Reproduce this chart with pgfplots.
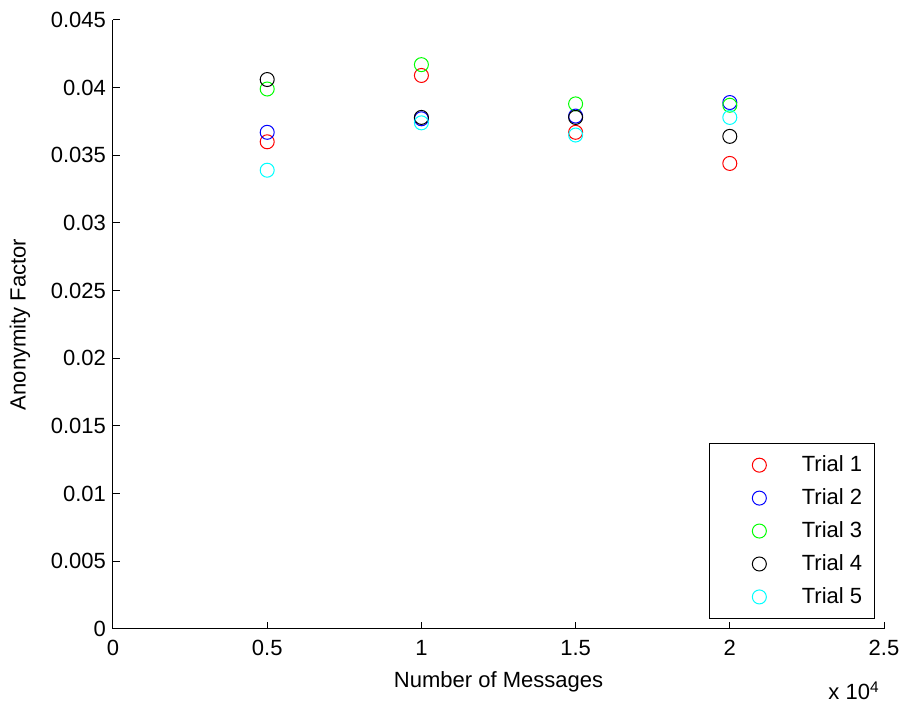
\documentclass[border=0pt]{standalone}
\usepackage{fontspec}
\setmainfont{Liberation Sans}
\usepackage{pgfplots}
\pgfplotsset{compat=1.18}
\usetikzlibrary{calc}
\definecolor{mred}{RGB}{255,0,0}
\definecolor{mblue}{RGB}{0,0,255}
\definecolor{mgreen}{RGB}{0,255,0}
\definecolor{mcyan}{RGB}{0,255,255}
\begin{document}
\begin{tikzpicture}[font=\fontsize{11}{13}\selectfont]
\begin{axis}[
  name=ax, scale only axis, width=385.5pt, height=304.5pt,
  xmin=0, xmax=25000, ymin=0, ymax=0.045,
  axis x line*=bottom, axis y line*=left,
  axis line style={line width=0.5pt},
  tick align=inside, major tick length=3.5pt,
  tick style={line width=0.5pt, black},
  xtick={0,5000,10000,15000,20000,25000},
  xticklabels={0,0.5,1,1.5,2,2.5},
  xticklabel style={yshift=-2pt},
  ytick={0,0.005,0.01,0.015,0.02,0.025,0.03,0.035,0.04,0.045},
  yticklabels={0,0.005,0.01,0.015,0.02,0.025,0.03,0.035,0.04,0.045},
  scaled ticks=false,
  xlabel={Number of Messages}, ylabel={Anonymity Factor},
  xlabel style={at={(axis description cs:0.5,-0.086)}, anchor=center},
  ylabel style={at={(axis description cs:-0.1206,0.5)}, anchor=center},
  legend style={at={(0.988,0.0164)}, anchor=south east, draw=black, line width=0.6pt,
    row sep=3pt, inner xsep=4pt, inner ysep=4pt, font=\fontsize{11}{13}\selectfont},
  legend cell align=left,
  legend image code/.code={\path (-3.5pt,0pt) (36pt,0pt); \draw[#1] plot coordinates {(17pt,0pt)};},
  every axis plot/.append style={only marks, mark=o, mark size=3.5pt, line width=0.5pt},
]
\addplot[mred] coordinates {(5000,0.0360) (10000,0.0409) (15000,0.0367) (20000,0.0344)};
\addlegendentry{Trial 1}
\addplot[mblue] coordinates {(5000,0.0367) (10000,0.0377) (15000,0.0379) (20000,0.0389)};
\addlegendentry{Trial 2}
\addplot[mgreen] coordinates {(5000,0.0399) (10000,0.0417) (15000,0.0388) (20000,0.0387)};
\addlegendentry{Trial 3}
\addplot[black] coordinates {(5000,0.0406) (10000,0.0378) (15000,0.0378) (20000,0.0364)};
\addlegendentry{Trial 4}
\addplot[mcyan] coordinates {(5000,0.0339) (10000,0.0374) (15000,0.0365) (20000,0.0378)};
\addlegendentry{Trial 5}
\end{axis}
\node[anchor=base east, inner sep=0pt] at ($(ax.south east)+(-2pt,-35.5pt)$) {x 10\textsuperscript{4}};
\pgfresetboundingbox
\path[use as bounding box] ($(ax.south west)+(-56.5pt,-37.5pt)$) rectangle ($(ax.north east)+(9pt,10pt)$);
\end{tikzpicture}
\end{document}
